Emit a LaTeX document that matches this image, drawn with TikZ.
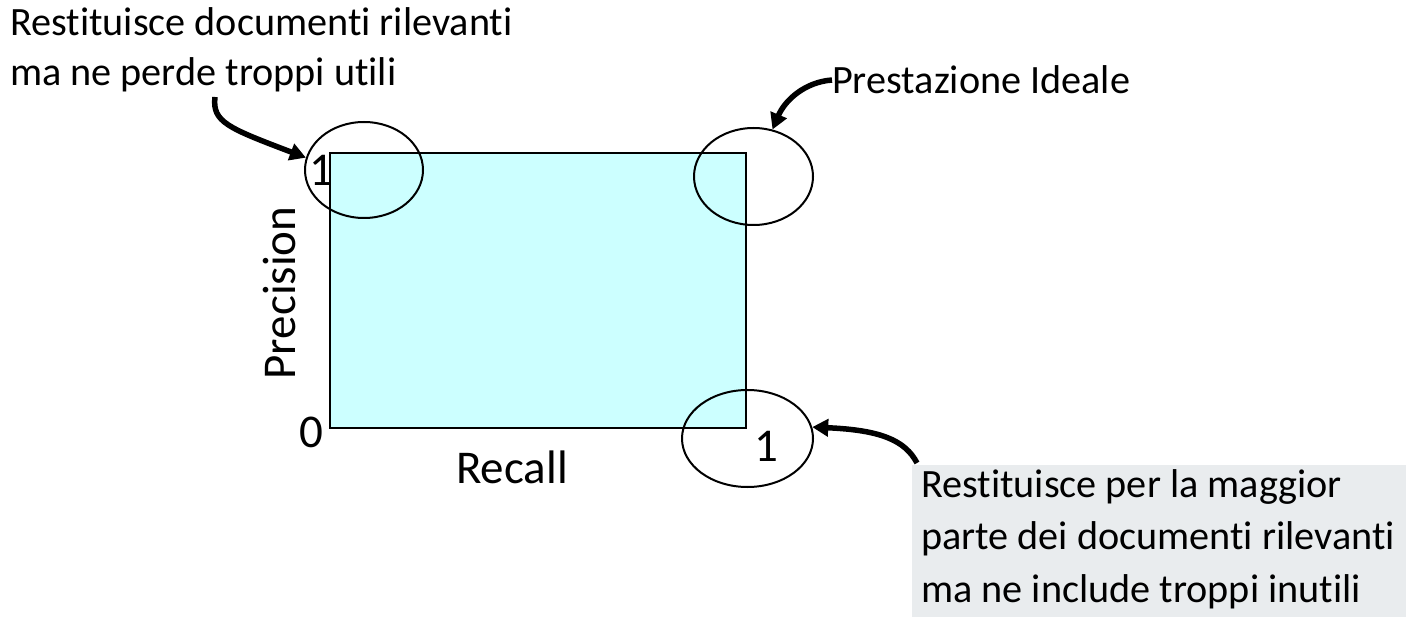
\documentclass[tikz,border=0pt]{standalone}
\usepackage{fontspec}
\setmainfont{Carlito}[Ligatures=NoCommon]
\usetikzlibrary{arrows.meta,shapes.geometric}
\definecolor{cyanfill}{HTML}{CCFFFF}
\definecolor{notegray}{HTML}{E9ECEE}
\tikzset{
  lbl/.style={inner sep=0pt, font=\fontsize{40.2}{50}\selectfont, align=flush left},
  axis/.style={inner sep=0pt, font=\fontsize{47}{50}\selectfont},
  oval/.style={draw, ellipse, line width=2pt, inner sep=0pt},
  callout/.style={line width=5.5pt, -{Triangle[length=16pt,width=17pt]}},
}
\begin{document}
\begin{tikzpicture}[x=1pt,y=-1pt]
\useasboundingbox (0,0) rectangle (1406,617);
% plot area
\filldraw[fill=cyanfill, draw=black, line width=2pt] (330,153) rectangle (746,428);
% ellipses
\node[oval, minimum width=118pt, minimum height=96pt] (etl) at (364,170) {};
\node[oval, minimum width=119pt, minimum height=97pt] (etr) at (753.5,176.5) {};
\node[oval, minimum width=131pt, minimum height=97pt] (ebr) at (747.5,438.5) {};
% axis labels
\node[axis] (one1) at (321,170) {1};
\node[axis] (zero) at (311,432) {0};
\node[axis] (one2) at (766,446) {1};
\node[axis, anchor=base] (recall) at (512,483) {Recall};
\node[axis, anchor=base, rotate=90] (prec) at (295,293) {Precision};
% texts
\node[lbl, anchor=base west] (tl) at (10,86) {Restituisce documenti rilevanti\\ma ne perde troppi utili};
\node[lbl, anchor=west] (tr) at (832,80) {Prestazione Ideale};
\fill[notegray] (912,465) rectangle (1406,617);
\node[lbl, font=\fontsize{40.2}{52.5}\selectfont, anchor=base west] (br) at (921,602) {Restituisce per la maggior\\parte dei documenti rilevanti\\ma ne include troppi inutili};
% arrow start points
\coordinate (stl) at (215,97);
\coordinate (sbr) at (917,463);
% arrows
\draw[callout] (stl) .. controls (212,122) and (228,128) .. (etl.168);
\draw[callout] (tr.west) .. controls (805,82) and (785,100) .. (etr.68);
\draw[callout] (sbr) .. controls (905,440) and (880,430) .. (ebr.10);
\end{tikzpicture}
\end{document}
